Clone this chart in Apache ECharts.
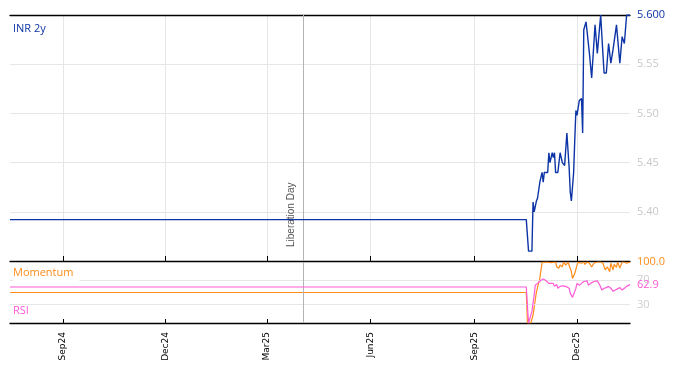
<!DOCTYPE html>
<html>
<head>
<meta charset="utf-8">
<script src="https://cdn.jsdelivr.net/npm/echarts@6/dist/echarts.min.js"></script>
<style>html,body{margin:0;padding:0;background:#fff}#c{width:674px;height:372px}</style>
</head>
<body>
<div id="c"></div>
<script>
// ---- data ----
const xStart = '2024-07-16';
const xEnd = '2026-01-17';
const tickDates = ['2024-09-01','2024-12-01','2025-03-01','2025-06-01','2025-09-01','2025-12-01'];
const tickLabels = ['Sep24','Dec24','Mar25','Jun25','Sep25','Dec25'];
const eventDate = '2025-04-02';
const eventLabel = 'Liberation Day';

const inrDates = ['2024-07-16','2025-10-17','2025-10-19','2025-10-22','2025-10-23','2025-10-24','2025-10-26','2025-10-27','2025-10-29','2025-10-31','2025-11-01','2025-11-02','2025-11-05','2025-11-06','2025-11-07','2025-11-09','2025-11-10','2025-11-11','2025-11-12','2025-11-14','2025-11-16','2025-11-18','2025-11-20','2025-11-22','2025-11-24','2025-11-25','2025-11-26','2025-11-28','2025-11-29','2025-11-30','2025-12-01','2025-12-03','2025-12-05','2025-12-06','2025-12-07','2025-12-09','2025-12-12','2025-12-14','2025-12-17','2025-12-19','2025-12-22','2025-12-24','2025-12-25','2025-12-27','2025-12-29','2025-12-31','2026-01-02','2026-01-05','2026-01-08','2026-01-10','2026-01-12','2026-01-14','2026-01-17'];
const inrValues = [5.392,5.392,5.360,5.360,5.410,5.400,5.411,5.414,5.430,5.440,5.430,5.440,5.440,5.460,5.450,5.460,5.455,5.460,5.440,5.440,5.460,5.450,5.447,5.480,5.445,5.420,5.411,5.440,5.473,5.503,5.498,5.513,5.515,5.480,5.585,5.593,5.561,5.536,5.590,5.561,5.600,5.560,5.541,5.541,5.571,5.551,5.565,5.590,5.551,5.578,5.571,5.600,5.600];

const momDates = ['2024-07-16','2025-10-17','2025-10-18','2025-10-21','2025-10-23','2025-10-26','2025-10-29','2025-10-31','2025-11-04','2025-11-08','2025-11-12','2025-11-13','2025-11-15','2025-11-16','2025-11-18','2025-11-19','2025-11-21','2025-11-23','2025-11-24','2025-11-26','2025-11-27','2025-11-29','2025-12-01','2025-12-02','2025-12-05','2025-12-07','2025-12-08','2025-12-10','2025-12-12','2025-12-14','2025-12-16','2025-12-19','2025-12-22','2025-12-24','2025-12-26','2025-12-28','2025-12-30','2025-12-31','2026-01-02','2026-01-03','2026-01-05','2026-01-06','2026-01-08','2026-01-10','2026-01-12','2026-01-14','2026-01-17'];
const momValues = [50,50,0,0,13,51,73,99.5,100,99,100,92,90,95,92,100,95,100,100,84,73,81,95,99.5,98,100,96,100,98,92,98,100,100,98,87,92,84,98,87,96,91,100,90,100,100,98,100];

const rsiDates = ['2024-07-16','2025-10-17','2025-10-19','2025-10-20','2025-10-22','2025-10-24','2025-10-25','2025-10-27','2025-10-28','2025-10-30','2025-11-01','2025-11-03','2025-11-06','2025-11-07','2025-11-10','2025-11-11','2025-11-13','2025-11-14','2025-11-16','2025-11-18','2025-11-19','2025-11-21','2025-11-22','2025-11-24','2025-11-25','2025-11-27','2025-11-28','2025-11-30','2025-12-01','2025-12-03','2025-12-05','2025-12-07','2025-12-10','2025-12-11','2025-12-13','2025-12-14','2025-12-16','2025-12-19','2025-12-21','2025-12-23','2025-12-25','2025-12-27','2025-12-29','2025-12-31','2026-01-02','2026-01-04','2026-01-05','2026-01-08','2026-01-10','2026-01-12','2026-01-14','2026-01-17'];
const rsiValues = [59,59,0,0,19,46,62,65,63,70,72,70,65,62,65,60,63,57,60,61,58,60,62,57,49,42,45,57,65,62,65,68,69,62,65,63,68,69,63,54,57,58,60,57,52,54,57,58,54,57,60,62.9];

const rsiGuides = [30, 70];
const seriesNames = ['INR 2y', 'Momentum', 'RSI'];

// ---- build ----
const BLUE = '#0d34a6', ORANGE = '#ff8c1a', PINK = '#ff5ad8';
function ts(s) { const p = s.split('-').map(Number); return Date.UTC(p[0], p[1]-1, p[2]); }
function pairs(d, v) { return d.map((x, i) => [ts(x), v[i]]); }
const tickTimes = tickDates.map(ts);
function tickFmt(val) {
  let best = 0, bd = Infinity;
  tickTimes.forEach((t, i) => { const d = Math.abs(t - val); if (d < bd) { bd = d; best = i; } });
  return bd < 86400000 * 2 ? tickLabels[best] : '';
}
const FONT = 'DejaVu Sans';
const chart = echarts.init(document.getElementById('c'), null, {renderer: 'canvas'});
chart.setOption({
  animation: false,
  backgroundColor: '#fff',
  grid: [
    {left: 10, right: 44, top: 15, height: 246},
    {left: 10, right: 44, top: 262, height: 61}
  ],
  xAxis: [
    {type: 'value', gridIndex: 0, position: 'bottom', min: ts(xStart), max: ts(xEnd),
     axisLine: {show: true, lineStyle: {color: '#000', width: 1.3}},
     axisTick: {show: true, inside: true, length: 5, lineStyle: {color: '#000'}, customValues: tickTimes},
     axisLabel: {show: false, customValues: tickTimes},
     splitLine: {show: true, lineStyle: {color: '#e6e6e6', width: 1}}},
    {type: 'value', gridIndex: 0, position: 'top', min: ts(xStart), max: ts(xEnd),
     axisLine: {show: true, lineStyle: {color: '#000', width: 1.3}},
     axisTick: {show: false}, axisLabel: {show: false}, splitLine: {show: false}},
    {type: 'value', gridIndex: 1, position: 'bottom', min: ts(xStart), max: ts(xEnd),
     axisLine: {show: true, lineStyle: {color: '#000', width: 1.3}},
     axisTick: {show: true, inside: true, length: 4, lineStyle: {color: '#000'}, customValues: tickTimes},
     axisLabel: {show: true, rotate: 90, margin: 9, color: '#000', fontSize: 9, fontFamily: FONT,
                 customValues: tickTimes, formatter: tickFmt},
     splitLine: {show: false}}
  ],
  yAxis: [
    {type: 'value', gridIndex: 0, position: 'right', min: 5.35, max: 5.60, interval: 0.05,
     axisLine: {show: false}, axisTick: {show: false},
     axisLabel: {color: '#c8c8c8', fontSize: 11, fontFamily: 'Open Sans', margin: 7,
                 showMinLabel: false, showMaxLabel: false, formatter: v => v.toFixed(2)},
     splitLine: {show: true, lineStyle: {color: '#e6e6e6', width: 1}}},
    {type: 'value', gridIndex: 1, position: 'right', min: 0, max: 100, interval: 10,
     axisLine: {show: false}, axisTick: {show: false},
     axisLabel: {color: '#cfcfcf', fontSize: 11, fontFamily: 'Open Sans', margin: 7,
                 formatter: v => rsiGuides.indexOf(v) >= 0 ? String(v) : ''},
     splitLine: {show: false}}
  ],
  series: [
    {name: seriesNames[0], type: 'line', xAxisIndex: 0, yAxisIndex: 0, data: pairs(inrDates, inrValues),
     showSymbol: false, symbol: 'none', lineStyle: {color: BLUE, width: 1.4}, itemStyle: {color: BLUE}, z: 5,
     endLabel: {show: true, distance: 7, color: BLUE, fontSize: 11, fontFamily: 'Open Sans',
                formatter: p => p.value[1].toFixed(3)},
     markLine: {silent: true, symbol: 'none', animation: false,
                lineStyle: {color: '#b4b4b4', width: 1, type: 'solid'},
                label: {show: true, formatter: eventLabel, position: 'insideStartTop', distance: [14, 7],
                        color: '#555', fontSize: 10, fontFamily: 'Liberation Sans'},
                data: [{xAxis: ts(eventDate)}]}},
    {name: seriesNames[1], type: 'line', xAxisIndex: 2, yAxisIndex: 1, data: pairs(momDates, momValues),
     showSymbol: false, symbol: 'none', lineStyle: {color: ORANGE, width: 1.2}, itemStyle: {color: ORANGE}, z: 4,
     endLabel: {show: true, distance: 7, color: ORANGE, fontSize: 11, fontFamily: 'Open Sans',
                formatter: p => p.value[1].toFixed(1)},
     markLine: {silent: true, symbol: 'none', animation: false, label: {show: false},
                lineStyle: {color: '#e6e6e6', width: 1, type: 'solid'},
                data: rsiGuides.map(g => ({yAxis: g}))}},
    {name: seriesNames[2], type: 'line', xAxisIndex: 2, yAxisIndex: 1, data: pairs(rsiDates, rsiValues),
     showSymbol: false, symbol: 'none', lineStyle: {color: PINK, width: 1.2}, itemStyle: {color: PINK}, z: 5,
     endLabel: {show: true, distance: 7, color: PINK, fontSize: 11, fontFamily: 'Open Sans',
                formatter: p => p.value[1].toFixed(1)},
     markLine: {silent: true, symbol: 'none', animation: false, label: {show: false},
                lineStyle: {color: '#b4b4b4', width: 1, type: 'solid'},
                data: [{xAxis: ts(eventDate)}]}}
  ],
  graphic: [
    {type: 'text', left: 13, top: 23, z: 10, style: {text: seriesNames[0], fill: BLUE, fontSize: 11, fontFamily: 'Open Sans'}},
    {type: 'text', left: 13, top: 267, z: 10, style: {text: seriesNames[1], fill: ORANGE, fontSize: 11, fontFamily: 'Open Sans',
      backgroundColor: '#fff', padding: [0, 6, 3, 0]}},
    {type: 'text', left: 13, top: 305, z: 10, style: {text: seriesNames[2], fill: PINK, fontSize: 11, fontFamily: 'Open Sans',
      backgroundColor: '#fff', padding: [0, 5, 1, 0]}}
  ]
});
</script>
</body>
</html>
